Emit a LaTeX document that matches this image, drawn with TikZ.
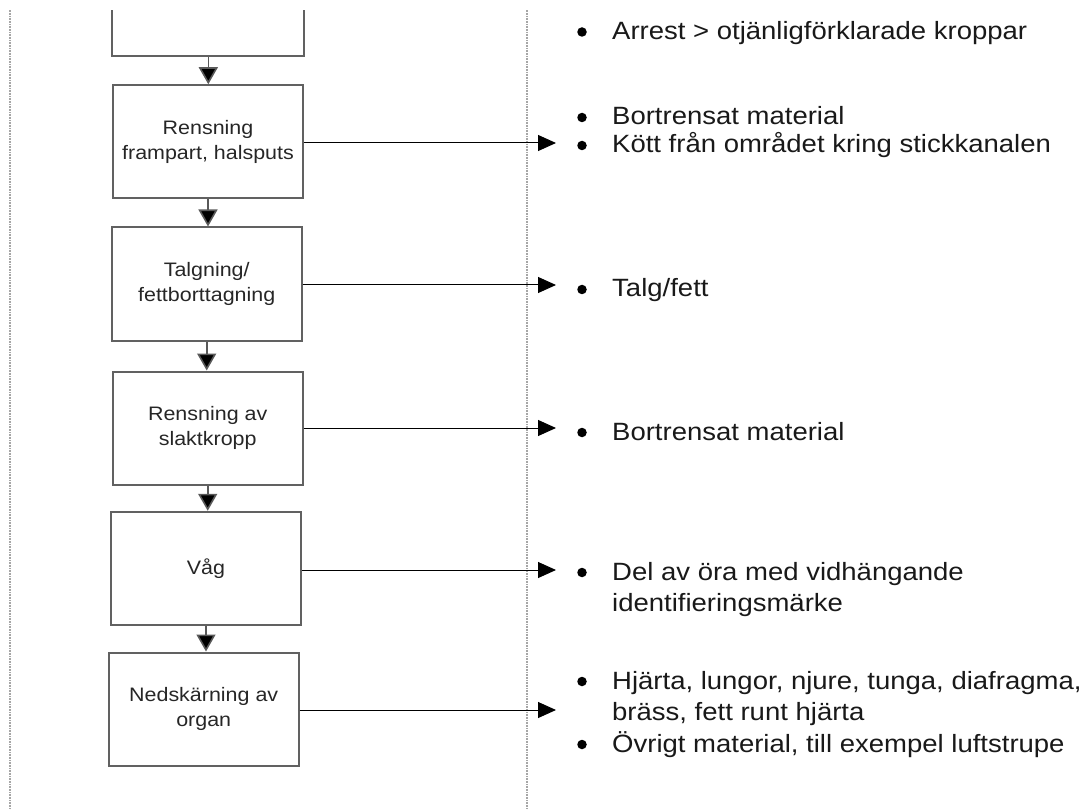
\documentclass[tikz,border=0pt]{standalone}
\usepackage{fontspec}
\setmainfont{Liberation Sans}
\newfontfamily\widefont[FakeStretch=1.1]{Liberation Sans}
\usetikzlibrary{arrows.meta}
\begin{document}
\begin{tikzpicture}[x=1pt,y=-1pt,
  stepbox/.style={draw=black!62,line width=2pt,minimum width=190pt,minimum height=113pt,align=center,font=\widefont\fontsize{19.5}{25}\selectfont,text=black!85,inner sep=0pt},
  sep/.style={draw=black!35,line width=1.5pt,dash pattern=on 1pt off 0.6pt},
  flow/.style={draw=black!65,line width=1.6pt,-{Triangle[length=17pt,width=19pt,fill=black]}},
  outarr/.style={draw=black,line width=1pt,-{Triangle[length=18pt,width=16pt]}},
  item/.style={anchor=base west,font=\widefont\fontsize{25}{30}\selectfont,text=black!90,inner sep=0pt,align=left},
  dot/.style={circle,fill=black,inner sep=0pt,minimum size=9.5pt}]
\useasboundingbox (0,0) rectangle (1087,810);
\begin{scope}
\clip (0,11) rectangle (1087,810);
\draw[sep] (10,0) coordinate (l1) -- (10,810) coordinate (l2);
\draw[sep] (527,0) coordinate (m1) -- (527,810) coordinate (m2);
\node[stepbox,minimum width=192pt] (b1) at (208.3,0) {};
\end{scope}
\node[stepbox] (b2) at (208,141.7) {Rensning\\frampart, halsputs};
\node[stepbox] (b3) at (206.7,284) {Talgning/\\fettborttagning};
\node[stepbox] (b4) at (207.7,428) {Rensning av\\slaktkropp};
\node[stepbox] (b5) at (206,568.3) {Våg};
\node[stepbox] (b6) at (203.7,709) {Nedskärning av\\organ};
\draw[flow] (b1.south) -- (b1.south |- b2.north);
\draw[flow] (b2.south) -- (b2.south |- b3.north);
\draw[flow] (b3.south) -- (b3.south |- b4.north);
\draw[flow] (b4.south) -- (b4.south |- b5.north);
\draw[flow] (b5.south) -- (b5.south |- b6.north);
\coordinate (t2) at (556,143);
\coordinate (t3) at (556,285);
\coordinate (t4) at (556,428);
\coordinate (t5) at (556,570);
\coordinate (t6) at (556,710);
\draw[outarr] (b2.east |- t2) -- (t2);
\draw[outarr] (b3.east |- t3) -- (t3);
\draw[outarr] (b4.east |- t4) -- (t4);
\draw[outarr] (b5.east |- t5) -- (t5);
\draw[outarr] (b6.east |- t6) -- (t6);
% output lists
\node[dot] (d1) at (582,32) {};
\node[item] (i1) at (612,40) {Arrest > otjänligförklarade kroppar};
\node[dot] (d2a) at (582,117.5) {};
\node[item] (i2a) at (612,125) {Bortrensat material};
\node[dot] (d2b) at (582,145.5) {};
\node[item] (i2b) at (612,153) {Kött från området kring stickkanalen};
\node[dot] (d3) at (582,289.5) {};
\node[item] (i3) at (612,297) {Talg/fett};
\node[dot] (d4) at (582,432.5) {};
\node[item] (i4) at (612,440) {Bortrensat material};
\node[dot] (d5) at (582,572.5) {};
\node[item] (i5a) at (612,580) {Del av öra med vidhängande};
\node[item] (i5b) at (612,611) {identifieringsmärke};
\node[dot] (d6a) at (582,681.5) {};
\node[item] (i6a) at (612,689) {Hjärta, lungor, njure, tunga, diafragma,};
\node[item] (i6b) at (612,720) {bräss, fett runt hjärta};
\node[dot] (d6b) at (582,744.5) {};
\node[item] (i6c) at (612,752) {Övrigt material, till exempel luftstrupe};
\end{tikzpicture}
\end{document}
